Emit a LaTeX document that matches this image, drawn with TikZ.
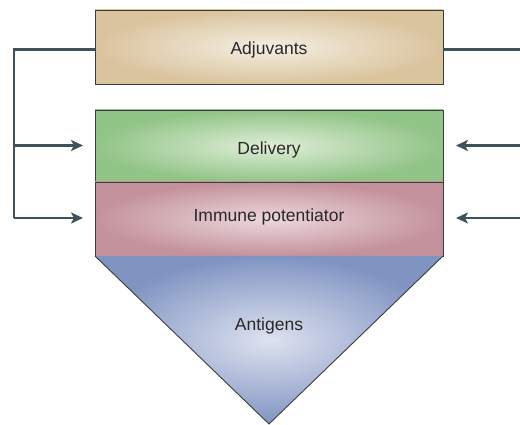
\documentclass[tikz,border=0pt]{standalone}
\usepackage{fontspec}
\setmainfont{Liberation Sans}
\usetikzlibrary{arrows.meta}
\definecolor{linec}{RGB}{62,82,92}
\definecolor{bordc}{RGB}{60,60,60}
\definecolor{tanout}{RGB}{218,196,158}
\definecolor{tanin}{RGB}{244,238,226}
\definecolor{grout}{RGB}{145,196,135}
\definecolor{grin}{RGB}{224,238,216}
\definecolor{rdout}{RGB}{196,146,156}
\definecolor{rdin}{RGB}{236,216,220}
\definecolor{blout}{RGB}{128,148,194}
\definecolor{blin}{RGB}{222,226,240}
\definecolor{txt}{RGB}{40,40,40}
\tikzset{
  lbl/.style={font=\fontsize{17.5}{19}\selectfont, text=txt},
  layer/.style={draw=bordc, line width=0.9pt, minimum width=348pt, inner sep=0pt, shading=radial},
  conn/.style={draw=linec, line width=2.5pt},
  arr/.style={conn, -{Stealth[length=12pt,width=11pt,inset=3pt]}}
}
\begin{document}
\begin{tikzpicture}[x=1pt,y=-1pt]
\useasboundingbox (0,0) rectangle (520,425);
\node[layer, minimum height=74pt, inner color=tanin, outer color=tanout] (adj) at (269,47) {};
\node[layer, minimum height=72pt, inner color=grin, outer color=grout] (del) at (269,146) {};
\node[layer, minimum height=74pt, inner color=rdin, outer color=rdout] (imm) at (269,219) {};
\path[shading=radial, inner color=blin, outer color=blout] (95,256) -- (443,256) -- (269,424) -- cycle;
\draw[bordc, line width=0.9pt] (95,256) -- (269,424) -- (443,256);
\node[lbl] (tadj) at (269,50) {Adjuvants};
\node[lbl] (tdel) at (269,150) {Delivery};
\node[lbl] (timm) at (269,217) {Immune potentiator};
\node[lbl] (ant) at (269,326) {Antigens};
\coordinate (lstart) at (95,49.5);
\coordinate (ltop) at (14,49.5);
\coordinate (lmid) at (14,145.5);
\coordinate (lbot) at (14,218);
\coordinate (ldel) at (83,145.5);
\coordinate (limm) at (83,218);
\coordinate (rstart) at (443,49.5);
\coordinate (rtop) at (520,49.5);
\coordinate (rmid) at (520,145.5);
\coordinate (rbot) at (520,218);
\coordinate (rdel) at (456,145.5);
\coordinate (rimm) at (456,218);
\draw[conn, line join=miter] (lstart) -- (ltop) -- (lbot);
\draw[arr] (lmid) -- (ldel);
\draw[arr] (lbot) -- (limm);
\draw[conn] (rstart) -- (rtop);
\draw[arr] (rmid) -- (rdel);
\draw[arr] (rbot) -- (rimm);
\end{tikzpicture}
\end{document}
